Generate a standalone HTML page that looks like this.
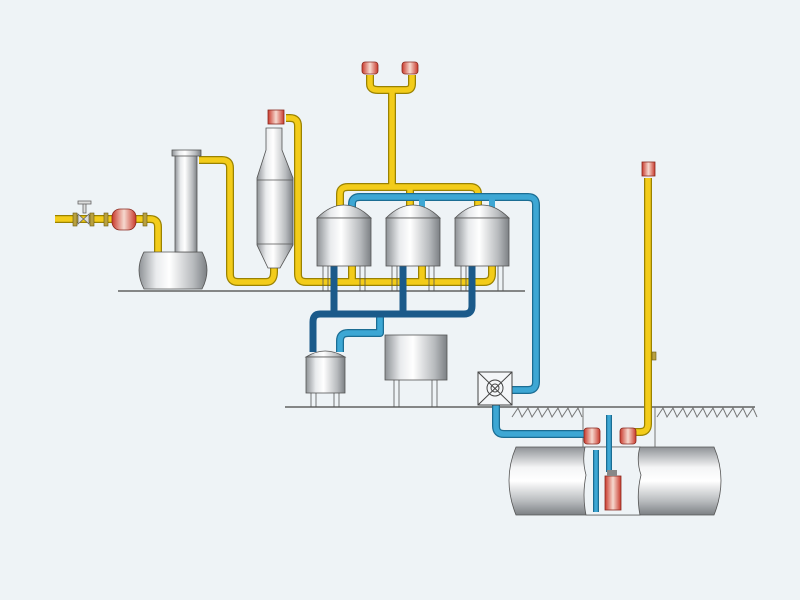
<!DOCTYPE html>
<html><head><meta charset="utf-8"><style>
html,body{margin:0;padding:0;background:#eef3f6;}
svg{display:block}
</style></head><body>
<svg width="800" height="600" viewBox="0 0 800 600" xmlns="http://www.w3.org/2000/svg">
<defs>
<linearGradient id="m" x1="0" x2="1" y1="0" y2="0">
<stop offset="0" stop-color="#8e9296"/><stop offset="0.25" stop-color="#e9ebed"/><stop offset="0.45" stop-color="#ffffff"/><stop offset="0.8" stop-color="#b7babd"/><stop offset="1" stop-color="#7c8084"/>
</linearGradient>
<linearGradient id="mv" x1="0" x2="0" y1="0" y2="1">
<stop offset="0" stop-color="#8e9296"/><stop offset="0.3" stop-color="#f4f5f6"/><stop offset="0.5" stop-color="#ffffff"/><stop offset="0.8" stop-color="#b7babd"/><stop offset="1" stop-color="#7c8084"/>
</linearGradient>
<linearGradient id="r" x1="0" x2="1">
<stop offset="0" stop-color="#c9392c"/><stop offset="0.5" stop-color="#f6d9cf"/><stop offset="1" stop-color="#c9392c"/>
</linearGradient>
</defs>
<rect width="800" height="600" fill="#eef3f6"/>
<g fill="none" stroke="#444" stroke-width="1.2">
<line x1="118" y1="291" x2="525" y2="291"/>
<line x1="285" y1="407" x2="755" y2="407"/>
</g>
<g stroke="#777" stroke-width="1" fill="none">
<path d="M512 417 l6 -9 l4 9 l6 -9 l4 9 l6 -9 l4 9 l6 -9 l4 9 l6 -9 l4 9 l6 -9 l4 9 l6 -9 l4 9"/>
<path d="M657 417 l6 -9 l4 9 l6 -9 l4 9 l6 -9 l4 9 l6 -9 l4 9 l6 -9 l4 9 l6 -9 l4 9 l6 -9 l4 9 l6 -9 l4 9 l6 -9 l4 9 l6 -9 l4 9"/>
<path d="M583 407 V447 M655 407 V447"/>
</g>
<g fill="none" stroke="#9a8200" stroke-width="8" stroke-linejoin="round">
<path d="M55 219 H150 Q158 219 158 227 V254"/>
<path d="M199 160 H222 Q230 160 230 168 V274 Q230 282 238 282 H266 Q274 282 274 272 V265"/>
<path d="M286 118 H290 Q298 118 298 126 V274 Q298 282 306 282 H484 Q492 282 492 274 V265"/>
<path d="M340 212 V194 Q340 187 348 187 H470 Q478 187 478 194 V210"/>
<path d="M410 188 V208 M392 187 V92 M370 75 V84 Q370 90 378 90 H406 Q412 90 412 84 V75"/>
<path d="M352 266 V282 M422 266 V282"/>
<path d="M648 178 V424 Q648 432 640 432 H630"/>
</g>
<g fill="none" stroke="#f3cc1a" stroke-width="5.5" stroke-linejoin="round">
<path d="M55 219 H150 Q158 219 158 227 V254"/>
<path d="M199 160 H222 Q230 160 230 168 V274 Q230 282 238 282 H266 Q274 282 274 272 V265"/>
<path d="M286 118 H290 Q298 118 298 126 V274 Q298 282 306 282 H484 Q492 282 492 274 V265"/>
<path d="M340 212 V194 Q340 187 348 187 H470 Q478 187 478 194 V210"/>
<path d="M410 188 V208 M392 187 V92 M370 75 V84 Q370 90 378 90 H406 Q412 90 412 84 V75"/>
<path d="M352 266 V282 M422 266 V282"/>
<path d="M648 178 V424 Q648 432 640 432 H630"/>
<path d="M274 268 V128"/>
</g>
<g fill="none" stroke-linejoin="round">
<path d="M352 212 V204 Q352 197 360 197 H528 Q536 197 536 205 V382 Q536 390 528 390 H512" stroke="#1b6d93" stroke-width="8"/>
<path d="M352 212 V204 Q352 197 360 197 H528 Q536 197 536 205 V382 Q536 390 528 390 H512" stroke="#3da7d4" stroke-width="5.5"/>
<path d="M422 198 V210 M492 198 V210" stroke="#3da7d4" stroke-width="6"/>
<path d="M496 405 V426 Q496 434 504 434 H585" stroke="#1b6d93" stroke-width="8"/>
<path d="M496 405 V426 Q496 434 504 434 H585" stroke="#3da7d4" stroke-width="5.5"/>
<path d="M380 316 V333 H348 Q340 333 340 341 V352" stroke="#1b6d93" stroke-width="8"/>
<path d="M380 316 V333 H348 Q340 333 340 341 V352" stroke="#3da7d4" stroke-width="5.5"/>
<path d="M334 266 V314 M403 266 V314 M472 266 V306 Q472 314 464 314 H320 Q313 314 313 322 V352" stroke="#1b5a8a" stroke-width="7"/>
</g>
<g stroke="#555" stroke-width="0.8">
<path d="M144 252 H202 Q212 270 202 289 H144 Q134 270 144 252 Z" fill="url(#m)"/>
<rect x="175" y="155" width="22" height="97" fill="url(#m)"/>
<rect x="172" y="150" width="29" height="6" fill="url(#m)"/>
<path d="M266 128 H282 V150 L293 178 V245 L280 268 H268 L257 245 V178 L266 150 Z" fill="url(#m)"/>
<line x1="257" y1="180" x2="293" y2="180"/><line x1="257" y1="244" x2="293" y2="244"/>
<g id="t">
<path d="M317 218 Q330 205 344 205 Q358 205 371 218 Z" fill="url(#m)"/>
<rect x="317" y="218" width="54" height="48" fill="url(#m)"/>
<path d="M323 266 V291 M328 266 V291 M360 266 V291 M365 266 V291" fill="none"/>
</g>
<use href="#t" x="69"/><use href="#t" x="138"/>
<path d="M306 357 Q325 345 345 357 Z" fill="url(#m)"/>
<rect x="306" y="357" width="39" height="36" fill="url(#m)"/>
<path d="M311 393 V407 M316 393 V407 M334 393 V407 M339 393 V407" fill="none"/>
<rect x="385" y="335" width="62" height="45" fill="url(#m)"/>
<path d="M394 380 V407 M399 380 V407 M432 380 V407 M437 380 V407" fill="none"/>
<path d="M516 447 H714 Q728 480 714 515 H516 Q502 480 516 447 Z" fill="url(#mv)"/>
<path d="M585 447 Q582 460 586 475 Q582 495 586 515 H640 Q636 495 641 475 Q636 460 640 447 Z" fill="#eef3f6"/>
</g>
<g fill="none">
<path d="M609 415 V472" stroke="#1b6d93" stroke-width="6"/><path d="M609 415 V472" stroke="#3da7d4" stroke-width="3.5"/>
<path d="M596 450 V512" stroke="#1b6d93" stroke-width="6"/><path d="M596 450 V512" stroke="#3da7d4" stroke-width="3.5"/>
</g>
<g stroke="#444" fill="none" stroke-width="1">
<rect x="478" y="372" width="34" height="33" fill="#f4f6f8"/>
<path d="M478 372 L512 405 M512 372 L478 405"/>
<circle cx="495" cy="388" r="8"/><circle cx="495" cy="388" r="4"/>
</g>
<rect x="605" y="476" width="16" height="34" fill="url(#r)" stroke="#8a2a20" stroke-width="0.8"/>
<rect x="607" y="470" width="10" height="6" fill="#888"/>
<g stroke="#8a2a20" stroke-width="0.8">
<rect x="112" y="209" width="24" height="21" rx="8" fill="url(#r)"/>
<rect x="268" y="110" width="16" height="14" fill="url(#r)"/>
<rect x="362" y="62" width="16" height="12" rx="3" fill="url(#r)"/>
<rect x="402" y="62" width="16" height="12" rx="3" fill="url(#r)"/>
<rect x="642" y="162" width="13" height="14" fill="url(#r)"/>
<rect x="584" y="428" width="16" height="16" rx="3" fill="url(#r)"/>
<rect x="620" y="428" width="16" height="16" rx="3" fill="url(#r)"/>
</g>
<g fill="#b8a040" stroke="#6a5a10" stroke-width="0.6">
<rect x="73" y="213" width="4" height="13"/><rect x="90" y="213" width="4" height="13"/>
<rect x="104" y="213" width="4" height="13"/><rect x="143" y="213" width="4" height="13"/>
<rect x="652" y="352" width="4" height="8"/>
</g>
<g stroke="#666" fill="#ddd" stroke-width="0.8">
<path d="M78 214 L89 224 L89 214 L78 224 Z"/>
<rect x="83" y="203" width="3" height="10"/><rect x="78" y="201" width="13" height="3"/>
</g>
</svg>
</body></html>
